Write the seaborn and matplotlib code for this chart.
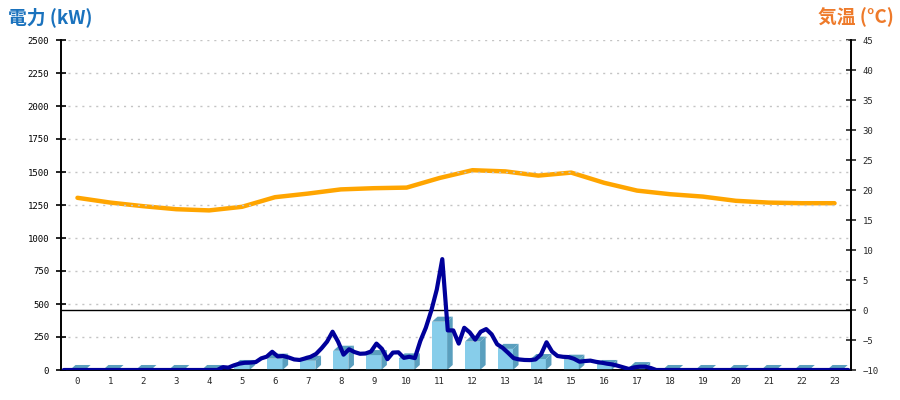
import numpy as np
import pandas as pd
import matplotlib
matplotlib.use('Agg')
import matplotlib.pyplot as plt
from matplotlib.patches import Polygon
import seaborn as sns

# hours of the day
hours = list(range(24))
hour_labels = [str(h) for h in hours]

# hourly power (kW) - bars
power_hourly = [0, 0, 0, 0, 0, 38, 86, 70, 146, 113, 88, 366,
                215, 160, 83, 78, 38, 22, 0, 0, 0, 0, 0, 0]

# 10 minute power (kW) - 6 samples per hour
power_10min = [
    0, 0, 0, 0, 0, 0,
    0, 0, 0, 0, 0, 0,
    0, 0, 0, 0, 0, 0,
    0, 0, 0, 0, 0, 0,
    0, 0, 0, 0, 0, 22,
    18, 35, 48, 55, 56, 60,
    88, 101, 138, 103, 106, 95,
    80, 76, 88, 100, 122, 165,
    215, 290, 215, 116, 157, 136,
    123, 125, 140, 200, 160, 82,
    132, 134, 92, 100, 90, 220,
    320, 450, 610, 840, 300, 300,
    200, 320, 285, 230, 290, 310,
    270, 195, 168, 130, 90, 80,
    76, 75, 80, 118, 210, 140,
    106, 100, 98, 85, 63, 68,
    71, 62, 56, 48, 42, 32,
    20, 8, 20, 25, 25, 15,
    0, 0, 0, 0, 0, 0,
    0, 0, 0, 0, 0, 0,
    0, 0, 0, 0, 0, 0,
    0, 0, 0, 0, 0, 0,
    0, 0, 0, 0, 0, 0,
    0, 0, 0, 0, 0, 0,
]
# sample time in minutes (middle of each 10 min slot)
minutes = [5 + 10 * i for i in range(len(power_10min))]

# hourly temperature (C)
temp = [18.7, 17.9, 17.3, 16.8, 16.6, 17.2, 18.8, 19.4, 20.1, 20.3, 20.4, 22.0,
        23.3, 23.1, 22.4, 22.9, 21.2, 19.9, 19.3, 18.9, 18.2, 17.9, 17.8, 17.8]

df_bar = pd.DataFrame({'hour': hours, 'kW': power_hourly})
df_line = pd.DataFrame({'t': np.array(minutes) / 60 - 0.5, 'kW': power_10min})
df_temp = pd.DataFrame({'hour': hours, 'temp': temp})

sns.set_style('white')
plt.rcParams['font.family'] = ['DejaVu Sans Mono']

fig = plt.figure(figsize=(9, 4), dpi=100)
ax = fig.add_axes([61 / 900, 30 / 400, 790 / 900, 330 / 400])
ax2 = ax.twinx()
ax.set_zorder(ax2.get_zorder() + 1)
ax.patch.set_visible(False)

bw = 0.46
dx, dy = 0.17, 38
front = '#87cdea'
shade = '#5a9fbe'

sns.barplot(data=df_bar, x='hour', y='kW', native_scale=True, width=bw,
            color=front, saturation=1, ax=ax, zorder=2, linewidth=0)
# fake 3d: side and top faces
for h, v in zip(hours, power_hourly):
    r = h + bw / 2
    l = h - bw / 2
    ax.add_patch(Polygon([(r, 0), (r + dx, dy), (r + dx, v + dy), (r, v)],
                         closed=True, facecolor=shade, edgecolor='none', zorder=2))
    ax.add_patch(Polygon([(l, v), (l + dx, v + dy), (r + dx, v + dy), (r, v)],
                         closed=True, facecolor=shade, edgecolor='none', zorder=2))

sns.lineplot(data=df_line, x='t', y='kW', color='#00009a', linewidth=3.0, ax=ax, zorder=3)
sns.lineplot(data=df_temp, x='hour', y='temp', color='#ffa500', linewidth=3.2, ax=ax2, zorder=3)
ax2.axhline(0, color='black', linewidth=1.0, zorder=1)

ax.set_xlim(-0.5, 23.5)
ax.set_ylim(0, 2500)
ax2.set_ylim(-10, 45)
ax.set_xticks(hours)
ax.set_xticklabels(hour_labels)
ax.set_yticks(range(0, 2501, 250))
ax2.set_yticks(range(-10, 46, 5))
ax.set_xlabel('')
ax.set_ylabel('')
ax2.set_ylabel('')

for y in range(250, 2501, 250):
    ax.axhline(y, color='#c4c4c4', linewidth=1.0, linestyle=(0, (1.5, 3.5)), zorder=0)

ax.tick_params(axis='x', length=0, pad=5, labelsize=6.5)
ax.tick_params(axis='y', length=7, width=1.2, direction='inout', pad=5, labelsize=6.5, colors='black')
ax2.tick_params(axis='y', length=7, width=1.2, direction='inout', pad=5, labelsize=6.5)

for a in (ax, ax2):
    a.spines['top'].set_visible(False)
    for s in ('left', 'right', 'bottom'):
        a.spines[s].set_color('black')
        a.spines[s].set_linewidth(1.2)

fig.text(8 / 900, 1 - 17 / 400, '電力 (kW)', color='#1a72bd', fontsize=13.5, fontweight='bold',
         family=['Noto Sans CJK JP', 'DejaVu Sans'], va='center', ha='left')
fig.text(894 / 900, 1 - 17 / 400, '気温 (°C)', color='#ee7a2a', fontsize=13.5, fontweight='bold',
         family=['Noto Sans CJK JP', 'DejaVu Sans'], va='center', ha='right')

fig.savefig('out.png', dpi=100)
